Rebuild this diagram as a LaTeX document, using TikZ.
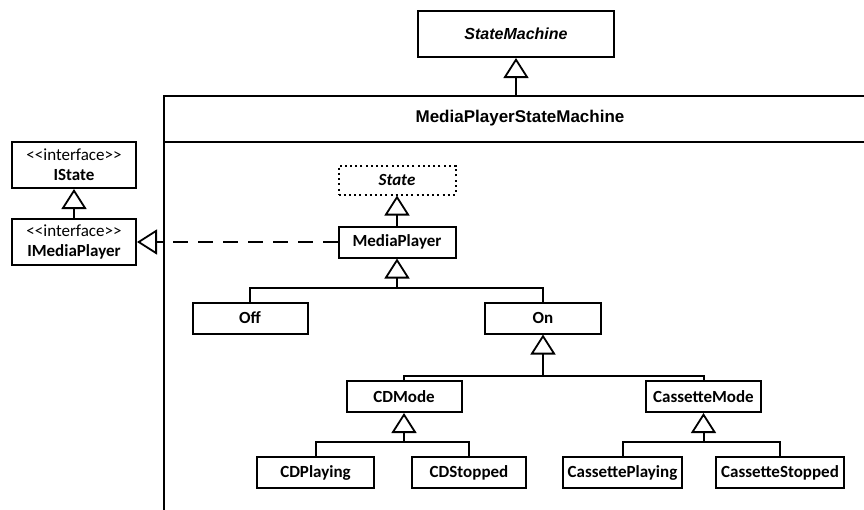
\documentclass[tikz,border=0pt]{standalone}
\usepackage{fontspec}
\setmainfont{Carlito}
\newfontfamily\arialf{Liberation Sans}
\usetikzlibrary{arrows.meta}
\newcommand\stereo{<\kern0pt<interface>\kern0pt>}
\begin{document}
\begin{tikzpicture}[x=1pt,y=-1pt,
  line width=2pt,
  cls/.style={draw, line width=2pt, inner sep=0pt, font=\bfseries\fontsize{17}{20}\selectfont, fill=white},
  iface/.style={cls, align=center, font=\fontsize{17}{20}\selectfont},
  gen/.style={-{Triangle[open,length=20pt,width=25pt,line width=1.8pt]}},
  real/.style={dash pattern=on 15pt off 10pt, -{Triangle[open,length=20pt,width=25pt,line width=1.8pt]}},
  link/.style={line width=2pt}]
\useasboundingbox (0,0) rectangle (864,509);

% outer state machine class
\node[cls, font=\arialf\bfseries\itshape\fontsize{16}{18}\selectfont,
      minimum width=196pt, minimum height=46pt] (sm) at (516,34) {StateMachine};

% the owning class frame, running off the page to the right and bottom
\coordinate (frametop) at (516,96);
\draw (870,96) -- (164,96) -- (164,515);
\draw (164,142) -- (870,142);
\node[font=\arialf\bfseries\fontsize{17}{20}\selectfont] (title) at (520,118) {MediaPlayerStateMachine};
\draw[gen] (frametop) -- (sm.south);

% interfaces
\node[iface, minimum width=124pt, minimum height=46pt] (istate) at (74,165)
  {\stereo\\\textbf{IState}};
\node[iface, minimum width=124pt, minimum height=46pt] (imp) at (74,242)
  {\stereo\\\textbf{IMediaPlayer}};
\draw[gen] (imp.north) -- (istate.south);

% state hierarchy
\node[cls, font=\bfseries\itshape\fontsize{17}{20}\selectfont,
      dash pattern=on 2pt off 3.2pt,
      minimum width=117pt, minimum height=29pt] (state) at (397,180) {State};
\node[cls, minimum width=117pt, minimum height=31pt] (mp) at (397,242) {MediaPlayer};
\draw[gen] (mp.north) -- (state.south);
\draw[real] (mp.west) -- (imp.east);

\node[cls, minimum width=115pt, minimum height=31pt] (off) at (250,318) {Off};
\node[cls, minimum width=116pt, minimum height=31pt] (on) at (543,318) {On};
\coordinate (j1) at (397,288);
\draw[link] (off.north) |- (j1) -| (on.north);
\draw[gen] (j1) -- (mp.south);

\node[cls, minimum width=115pt, minimum height=31pt] (cd) at (404,396.5) {CDMode};
\node[cls, minimum width=115pt, minimum height=31pt] (cas) at (703.5,396.5) {CassetteMode};
\coordinate (j2) at (543,376);
\draw[link] (cd.north) |- (j2) -| (cas.north);
\draw[gen] (j2) -- (on.south);

\node[cls, minimum width=117pt, minimum height=31pt] (cdp) at (315.5,472.5) {CDPlaying};
\node[cls, minimum width=114pt, minimum height=31pt] (cds) at (469,472.5) {CDStopped};
\coordinate (j3) at (404,442);
\draw[link] (cdp.north) |- (j3) -| (cds.north);
\draw[gen] (j3) -- (cd.south);

\node[cls, minimum width=119pt, minimum height=31pt] (casp) at (622.5,472.5) {CassettePlaying};
\node[cls, minimum width=128pt, minimum height=31pt] (cass) at (780,472.5) {CassetteStopped};
\coordinate (j4) at (703.5,442);
\draw[link] (casp.north) |- (j4) -| (cass.north);
\draw[gen] (j4) -- (cas.south);
\end{tikzpicture}
\end{document}
